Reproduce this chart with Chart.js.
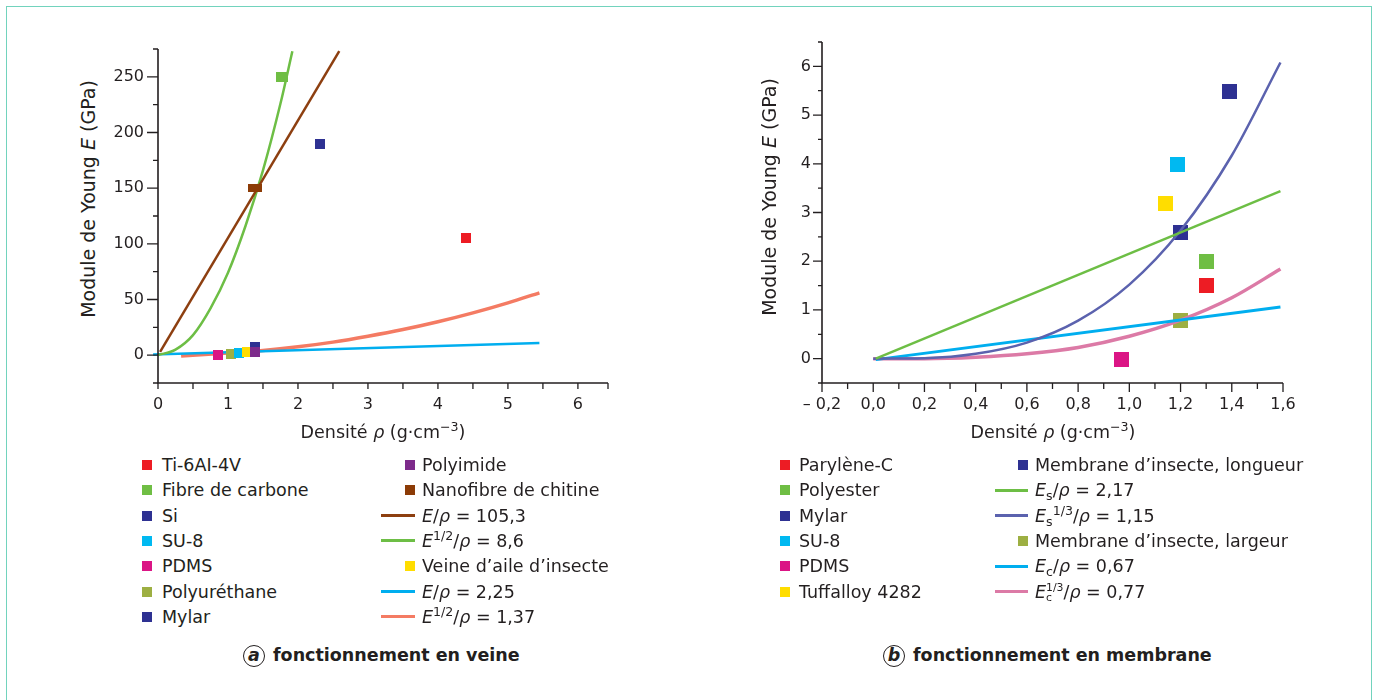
<!DOCTYPE html>
<html lang="fr">
<head>
<meta charset="utf-8">
<title>Module de Young en fonction de la densité</title>
<script src="https://cdn.jsdelivr.net/npm/chart.js@4.4.1/dist/chart.umd.min.js"></script>
<style>
  body { margin: 0; background: #fff; font-family: "DejaVu Sans", Verdana, sans-serif; color: #231f20; }
  #page { position: relative; width: 1377px; height: 700px; overflow: hidden; }
  #frame { position: absolute; left: 6px; top: 6px; width: 1364px; height: 760px; border: 1.5px solid #72d3bd; }
  canvas { position: absolute; }
  .txt { position: absolute; white-space: nowrap; font-size: 17.5px; line-height: 22px; }
  .ytitle { transform: translate(-50%, -50%) rotate(-90deg); font-size: 19px; }
  .xtitle { transform: translate(-50%, -50%); }
  sup, sub { font-size: 0.72em; line-height: 0; }
  sup { vertical-align: 0.55em; }
  sub { vertical-align: -0.3em; }
  .stack { display: inline-block; vertical-align: -0.35em; font-size: 0.62em; line-height: 0.95em; text-align: left; }
  .stack span { display: block; }
  .caption { position: absolute; font-weight: bold; font-size: 17.5px; white-space: nowrap; }
  .circ { display: inline-block; width: 20px; height: 20px; border: 1.6px solid #231f20; border-radius: 50%;
          text-align: center; line-height: 19px; font-style: italic; margin-right: 8px; font-size: 17.5px; }
</style>
</head>
<body>
<div id="page">
  <div id="frame"></div>
  <canvas id="veine" width="540" height="400" style="left:100px; top:30px;"></canvas>
  <canvas id="membrane" width="543" height="400" style="left:760px; top:30px;"></canvas>
</div>
<script>
const axisInk = '#231f20';

// ---------- (a) fonctionnement en veine ----------
const veineMaterials = ['Ti-6AI-4V', 'Fibre de carbone', 'Si', 'SU-8', 'PDMS', 'Polyuréthane', 'Mylar',
                        'Polyimide', 'Nanofibre de chitine', 'Veine d’aile d’insecte'];
const veineRho = [4.40, 1.77, 2.32, 1.16, 0.86, 1.04, 1.38, 1.38, 1.38, 1.27];
const veineE   = [105, 250, 190, 2, 0, 1, 7.5, 2.5, 150, 2.5];

const veineLineLabels = ['<i>E</i>/<i>ρ</i> = 105,3', '<i>E</i><sup>1/2</sup>/<i>ρ</i> = 8,6',
                         '<i>E</i>/<i>ρ</i> = 2,25', '<i>E</i><sup>1/2</sup>/<i>ρ</i> = 1,37'];
const rhoLine105  = [0.03, 2.59];
const eLine105    = [3, 273];
const rhoCurve86  = [0, 0.25, 0.5, 0.75, 1.0, 1.25, 1.5, 1.75, 1.92];
const eCurve86    = [0, 5, 18, 42, 74, 116, 166, 226, 273];
const rhoLine225  = [-0.07, 5.45];
const eLine225    = [0.5, 11];
const rhoCurve137 = [0.33, 1, 1.5, 2, 2.5, 3, 3.5, 4, 4.5, 5, 5.45];
const eCurve137   = [-0.8, 1.9, 4.2, 7.5, 11.7, 17, 23, 30, 38, 47, 56];

const veineXTicks = [0, 1, 2, 3, 4, 5, 6];
const veineYTicks = [0, 50, 100, 150, 200, 250];

// ---------- (b) fonctionnement en membrane ----------
const membraneMaterials = ['Parylène-C', 'Polyester', 'Mylar', 'SU-8', 'PDMS', 'Tuffalloy 4282',
                           'Membrane d’insecte, longueur', 'Membrane d’insecte, largeur'];
const membraneRho = [1.30, 1.30, 1.20, 1.19, 0.97, 1.14, 1.39, 1.20];
const membraneE   = [1.51, 1.99, 2.58, 3.99, -0.01, 3.19, 5.49, 0.79];

const membraneLineLabels = ['<i>E</i><sub>s</sub>/<i>ρ</i> = 2,17', '<i>E</i><sub>s</sub><sup>1/3</sup>/<i>ρ</i> = 1,15',
                            '<i>E</i><sub>c</sub>/<i>ρ</i> = 0,67',
                            '<i>E</i><span class="stack"><span>1/3</span><span>c</span></span>/<i>ρ</i> = 0,77'];
const rhoLine217  = [0.01, 1.59];
const eLine217    = [0, 3.44];
const rhoCurve115 = [0, 0.2, 0.4, 0.6, 0.8, 1.0, 1.2, 1.4, 1.59];
const eCurve115   = [0, 0.01, 0.1, 0.33, 0.78, 1.52, 2.63, 4.17, 6.08];
const rhoLine067  = [0.01, 1.59];
const eLine067    = [-0.02, 1.06];
const rhoCurve077 = [0, 0.2, 0.4, 0.6, 0.8, 1.0, 1.2, 1.4, 1.59];
const eCurve077   = [0, 0, 0.03, 0.1, 0.23, 0.46, 0.79, 1.25, 1.84];

const membraneXValues = [-0.2, 0, 0.2, 0.4, 0.6, 0.8, 1.0, 1.2, 1.4, 1.6];
const membraneXTicks  = ['– 0,2', '0,0', '0,2', '0,4', '0,6', '0,8', '1,0', '1,2', '1,4', '1,6'];
const membraneYTicks  = [0, 1, 2, 3, 4, 5, 6];

// ---------- styles ----------
const veineColors = ['#ed1c24', '#6fbe44', '#2e3192', '#00b9f1', '#db1585', '#9daf42', '#2e3192',
                     '#7d2b8b', '#8c3b06', '#ffdd00'];
const veineSizes  = [[10, 10], [12, 10], [10, 10], [10, 10], [10, 10], [10, 10], [10, 10],
                     [10, 10], [14, 8], [10, 10]];
const veineOrder  = [6, 6, 6, 3, 6, 4, 5, 1, 6, 2];
const veineLineColors = ['#8d3f10', '#6dbe45', '#00aeef', '#f47b63'];
const veineLineWidths = [2.5, 2.5, 2.5, 3.5];

const membraneColors = ['#ed1c24', '#6fbe44', '#2e3192', '#00b9f1', '#db1585', '#ffdd00', '#2e3192', '#9daf42'];
const membraneLineColors = ['#6dbe45', '#5b62ae', '#00aeef', '#dc7aa6'];
const membraneLineWidths = [2.5, 2.5, 3, 3.5];

function block(w, h, color) {
  const c = document.createElement('canvas');
  c.width = w; c.height = h;
  const g = c.getContext('2d');
  g.fillStyle = color;
  g.fillRect(0, 0, w, h);
  return c;
}

function toPoints(xs, ys) {
  return xs.map((x, i) => ({ x: x, y: ys[i] }));
}

function lineSet(label, xs, ys, color, width, curved, order) {
  return {
    label: label, data: toPoints(xs, ys), showLine: true, pointRadius: 0,
    borderColor: color, borderWidth: width, fill: false, order: order, clip: 8,
    cubicInterpolationMode: curved ? 'monotone' : 'default'
  };
}

// tick marks + axis lines, drawn from the scale's own ticks
function makeTicks(xMajor, yMajor, xLen, yLen, endTick) {
  return {
    id: 'tickMarks',
    afterDatasetsDraw(chart) {
      const { ctx, chartArea: a, scales: { x, y } } = chart;
      ctx.save();
      ctx.strokeStyle = axisInk;
      ctx.lineWidth = 1.3;
      ctx.beginPath();
      x.ticks.forEach(t => {
        const px = x.getPixelForValue(t.value);
        const len = xMajor(t.value) ? xLen[0] : xLen[1];
        ctx.moveTo(px, a.bottom);
        ctx.lineTo(px, a.bottom + len);
      });
      if (endTick) {
        ctx.moveTo(a.right, a.bottom);
        ctx.lineTo(a.right, a.bottom + xLen[1]);
      }
      y.ticks.forEach(t => {
        const py = y.getPixelForValue(t.value);
        const len = yMajor(t.value) ? yLen[0] : yLen[1];
        ctx.moveTo(a.left, py);
        ctx.lineTo(a.left - len, py);
      });
      ctx.stroke();
      ctx.lineWidth = 1.6;
      ctx.beginPath();
      ctx.moveTo(a.left, a.top);
      ctx.lineTo(a.left, a.bottom);
      ctx.lineTo(a.right, a.bottom);
      ctx.stroke();
      ctx.restore();
    }
  };
}

// fixed box size and no label overhang, so the plot area lands where the layout padding says
function fixX(h) {
  return s => { s.height = h; s.paddingLeft = 0; s.paddingRight = 0; };
}
function fixY(w) {
  return s => { s.width = w; s.paddingTop = 0; s.paddingBottom = 0; };
}

function axis(min, max, step, label, pad, fit) {
  return {
    type: 'linear', min: min, max: max,
    ticks: { stepSize: step, autoSkip: false, maxRotation: 0, padding: pad, color: axisInk, includeBounds: false,
             font: { family: 'DejaVu Sans', size: 16 }, callback: label },
    grid: { display: false, drawTicks: false },
    border: { display: false },
    afterFit: fit
  };
}

const near = (a, b) => Math.abs(a - b) < 1e-6;

// ---------- chart (a) ----------
const veineSets = veineMaterials.map((name, i) => ({
  label: name, data: [{ x: veineRho[i], y: veineE[i] }],
  pointStyle: block(veineSizes[i][0], veineSizes[i][1], veineColors[i]),
  pointRadius: 6, order: veineOrder[i]
}));
veineSets.push(lineSet(veineLineLabels[0], rhoLine105, eLine105, veineLineColors[0], veineLineWidths[0], false, 10));
veineSets.push(lineSet(veineLineLabels[1], rhoCurve86, eCurve86, veineLineColors[1], veineLineWidths[1], true, 11));
veineSets.push(lineSet(veineLineLabels[2], rhoLine225, eLine225, veineLineColors[2], veineLineWidths[2], false, 12));
veineSets.push(lineSet(veineLineLabels[3], rhoCurve137, eCurve137, veineLineColors[3], veineLineWidths[3], true, 13));

new Chart(document.getElementById('veine'), {
  type: 'scatter',
  data: { datasets: veineSets },
  options: {
    responsive: false, animation: false, devicePixelRatio: 1,
    layout: { padding: { top: 19, right: 32, left: 0, bottom: 0 } },
    plugins: { legend: { display: false }, tooltip: { enabled: false } },
    scales: {
      x: axis(0, 6.43, 0.5, v => veineXTicks.some(t => near(t, v)) ? String(v) : '', 12, fixX(47)),
      y: axis(-25, 275, 25, v => veineYTicks.some(t => near(t, v)) ? String(v) : '', 14, fixY(58))
    }
  },
  plugins: [makeTicks(v => Number.isInteger(v), v => v % 50 === 0, [6, 6], [11, 5], true)]
});

// ---------- chart (b) ----------
const membraneSets = membraneMaterials.map((name, i) => ({
  label: name, data: [{ x: membraneRho[i], y: membraneE[i] }],
  pointStyle: block(15, 15, membraneColors[i]),
  pointRadius: 8, order: 10
}));
membraneSets.push(lineSet(membraneLineLabels[0], rhoLine217, eLine217, membraneLineColors[0], membraneLineWidths[0], false, 1));
membraneSets.push(lineSet(membraneLineLabels[1], rhoCurve115, eCurve115, membraneLineColors[1], membraneLineWidths[1], true, 2));
membraneSets.push(lineSet(membraneLineLabels[2], rhoLine067, eLine067, membraneLineColors[2], membraneLineWidths[2], false, 3));
membraneSets.push(lineSet(membraneLineLabels[3], rhoCurve077, eCurve077, membraneLineColors[3], membraneLineWidths[3], true, 4));

new Chart(document.getElementById('membrane'), {
  type: 'scatter',
  data: { datasets: membraneSets },
  options: {
    responsive: false, animation: false, devicePixelRatio: 1,
    layout: { padding: { top: 12, right: 20, left: 0, bottom: 0 } },
    plugins: { legend: { display: false }, tooltip: { enabled: false } },
    scales: {
      x: axis(-0.2, 1.6, 0.1, v => {
        const k = membraneXValues.findIndex(t => near(t, v));
        return k < 0 ? '' : membraneXTicks[k];
      }, 12, fixX(47)),
      y: axis(-0.5, 6.5, 0.5, v => membraneYTicks.some(t => near(t, v)) ? String(v) : '', 11, fixY(62))
    }
  },
  plugins: [makeTicks(v => Math.round(v * 10) % 2 === 0, v => Number.isInteger(v), [9, 6], [9, 4], false)]
});

// ---------- HTML texts: axis titles, legends, captions ----------
const page = document.getElementById('page');
function put(html, cls, css) {
  const d = document.createElement('div');
  d.className = cls;
  d.innerHTML = html;
  Object.assign(d.style, css);
  page.appendChild(d);
  return d;
}

const yTitle = 'Module de Young <i>E</i> (GPa)';
const xTitle = 'Densité <i>ρ</i> (g·cm<sup>−3</sup>)';
put(yTitle, 'txt ytitle', { left: '88px', top: '199px' });
put(yTitle, 'txt ytitle', { left: '769px', top: '197px' });
put(xTitle, 'txt xtitle', { left: '383px', top: '432px' });
put(xTitle, 'txt xtitle', { left: '1053px', top: '432px' });

function legendColumn(entries, y0, dy, sqLeft, lnLeft, lnRight, textLeft) {
  entries.forEach((e, i) => {
    const yc = y0 + i * dy;
    if (e.kind === 'sq') {
      put('', '', { position: 'absolute', left: sqLeft + 'px', top: (yc - 5) + 'px', width: '10px', height: '10px', background: e.color });
    } else {
      put('', '', { position: 'absolute', left: lnLeft + 'px', top: (yc - 1.5) + 'px', width: (lnRight - lnLeft) + 'px', height: '3px', background: e.color });
    }
    put(e.html, 'txt', { left: textLeft + 'px', top: (yc - 11) + 'px' });
  });
}

const mat = (names, colors, i) => ({ kind: 'sq', color: colors[i], html: names[i] });
const lin = (labels, colors, i) => ({ kind: 'ln', color: colors[i], html: labels[i] });

const veineCol1 = [0, 1, 2, 3, 4, 5, 6].map(i => mat(veineMaterials, veineColors, i));
const veineCol2 = [mat(veineMaterials, veineColors, 7), mat(veineMaterials, veineColors, 8),
                   lin(veineLineLabels, veineLineColors, 0), lin(veineLineLabels, veineLineColors, 1),
                   mat(veineMaterials, veineColors, 9),
                   lin(veineLineLabels, veineLineColors, 2), lin(veineLineLabels, veineLineColors, 3)];
legendColumn(veineCol1, 465, 25.3, 142, 0, 0, 162);
legendColumn(veineCol2, 465, 25.3, 405, 381, 415, 422);

const membraneCol1 = [0, 1, 2, 3, 4, 5].map(i => mat(membraneMaterials, membraneColors, i));
const membraneCol2 = [mat(membraneMaterials, membraneColors, 6),
                      lin(membraneLineLabels, membraneLineColors, 0), lin(membraneLineLabels, membraneLineColors, 1),
                      mat(membraneMaterials, membraneColors, 7),
                      lin(membraneLineLabels, membraneLineColors, 2), lin(membraneLineLabels, membraneLineColors, 3)];
legendColumn(membraneCol1, 465, 25.3, 780, 0, 0, 799);
legendColumn(membraneCol2, 465, 25.3, 1018, 995, 1028, 1035);

put('<span class="circ">a</span>fonctionnement en veine', 'caption', { left: '243px', top: '645px' });
put('<span class="circ">b</span>fonctionnement en membrane', 'caption', { left: '883px', top: '645px' });
</script>
</body>
</html>
